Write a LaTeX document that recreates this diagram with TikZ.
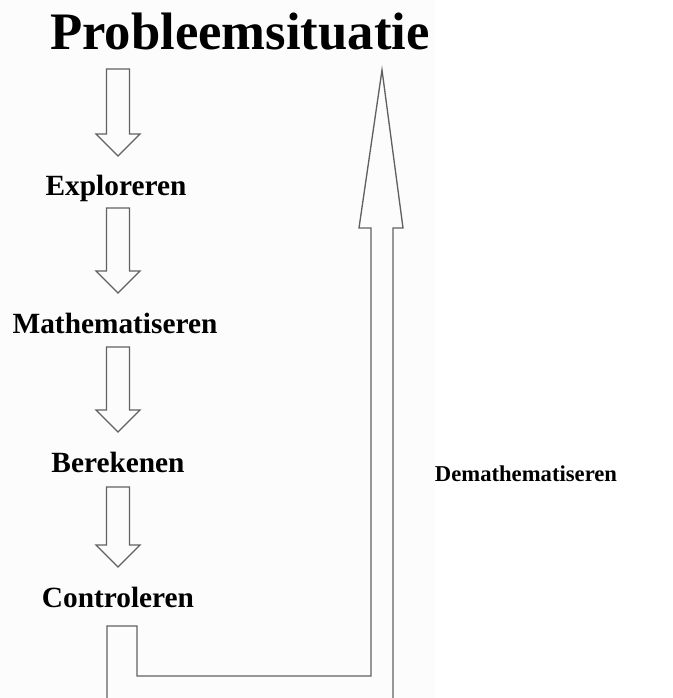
\documentclass[tikz,border=0pt]{standalone}
\usepackage{fontspec}
\setmainfont{Liberation Serif}
\usetikzlibrary{positioning, calc}

\tikzset{
  label/.style={font=\bfseries\fontsize{22}{25}\selectfont, inner sep=0pt, anchor=base},
  blockarrow/.style={draw=black!62, line width=1pt, line join=miter}
}

% down arrow from the text #1 to the text #2
\newcommand{\blockdown}[3]{%
  \draw[blockarrow] let \p1=(#1.base), \p2=(#2.base) in
    (118*0.75pt-8.6pt,\y1-#3) -- (118*0.75pt-8.6pt,\y2+46.5pt) -- (118*0.75pt-16.5pt,\y2+46.5pt)
    -- (118*0.75pt,\y2+30pt) -- (118*0.75pt+16.5pt,\y2+46.5pt) -- (118*0.75pt+8.6pt,\y2+46.5pt)
    -- (118*0.75pt+8.6pt,\y1-#3) -- cycle;}

\begin{document}
\begin{tikzpicture}[x=0.75pt, y=-0.75pt]
\useasboundingbox (0,0) rectangle (672,698);
\fill [fill={rgb,255:red,252;green,252;blue,252}] (0,0) rectangle (435,698);

\node [label, font=\bfseries\fontsize{39.5}{44}\selectfont] (problem) at (240,50) {Probleemsituatie};
\node [label] (explore) at (116,196) {Exploreren};
\node [label] (math) at (115,333) {Mathematiseren};
\node [label] (calc) at (118,472) {Berekenen};
\node [label] (check) at (118,607) {Controleren};
\node [label, font=\bfseries\fontsize{17}{20}\selectfont] (demath) at (526,481) {Demathematiseren};

\blockdown{problem}{explore}{14.2pt}
\blockdown{explore}{math}{9pt}
\blockdown{math}{calc}{10.5pt}
\blockdown{calc}{check}{11.2pt}

% way back up
\coordinate (loopstart) at (107,698);
\coordinate (looptip) at (382,70);
\coordinate (loopend) at (393,698);
\draw [blockarrow] (loopstart) -- (107,626) -- (137,626) -- (137,676) -- (371,676)
  -- (371,228) -- (359,228) -- (looptip) -- (403,228) -- (393,228) -- (loopend);
\end{tikzpicture}
\end{document}
